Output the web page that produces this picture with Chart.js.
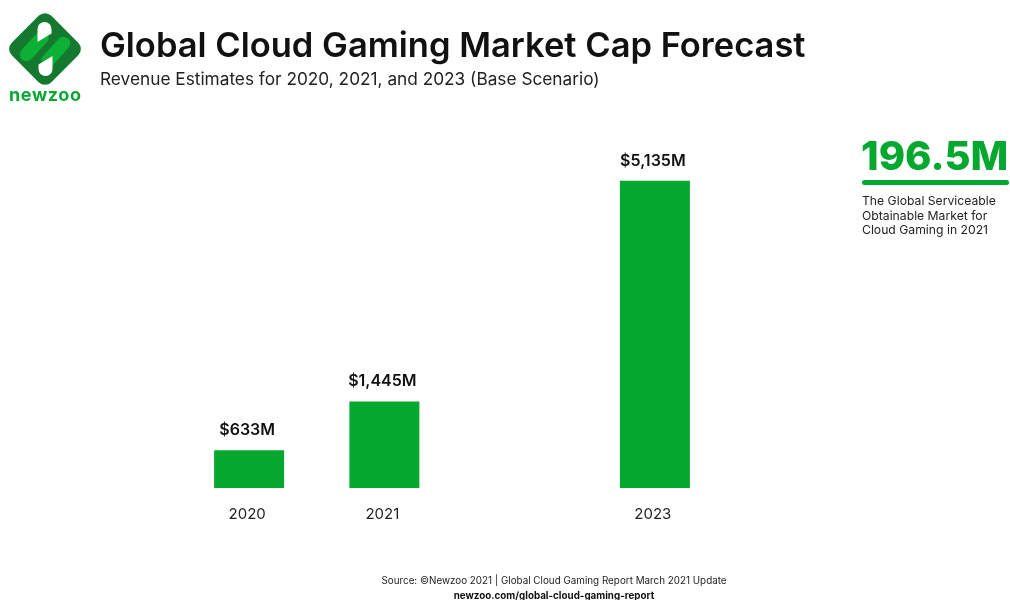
<!DOCTYPE html>
<html>
<head>
<meta charset="utf-8">
<title>Global Cloud Gaming Market Cap Forecast</title>
<script src="https://cdn.jsdelivr.net/npm/chart.js@4"></script>
<style>
  html, body { margin: 0; padding: 0; background: #fff; }
  #wrap { position: relative; width: 1010px; height: 600px; overflow: hidden; font-family: Inter, sans-serif; color: #111; }
  #wrap canvas { position: absolute; left: 0; top: 0; }
  .txt { position: absolute; white-space: nowrap; }
  #logo { position: absolute; left: 8px; top: 11px; }
</style>
</head>
<body>
<div id="wrap">
  <canvas id="chart" width="1010" height="600"></canvas>

  <svg id="logo" width="76" height="76" viewBox="0 0 76 76">
    <rect x="9" y="10" width="56" height="56" rx="9" transform="rotate(45 37 38)" fill="#14782f"/>
    <line x1="34" y1="26.5" x2="18.5" y2="43.5" stroke="#0bb035" stroke-width="13.5" stroke-linecap="round"/>
    <path d="M29.5 31 L29.5 18 A7 7 0 0 1 43.5 18 L43.5 22.5 Z" fill="#fff"/>
    <line x1="40" y1="49.5" x2="55.5" y2="32.5" stroke="#0bb035" stroke-width="13.5" stroke-linecap="round"/>
    <path d="M44.5 45 L44.5 58 A7 7 0 0 1 30.5 58 L30.5 53.5 Z" fill="#fff"/>
  </svg>
  <div class="txt" style="left:9px;top:84px;font-size:18px;font-weight:700;color:#0aa833;letter-spacing:.6px">newzoo</div>

  <div class="txt" style="left:100px;top:24px;font-size:34.5px;font-weight:600">Global Cloud Gaming Market Cap Forecast</div>
  <div class="txt" style="left:100px;top:68px;font-size:17.25px;font-weight:400;color:#222">Revenue Estimates for 2020, 2021, and 2023 (Base Scenario)</div>

  <div class="txt" style="left:861px;top:131px;font-size:40px;font-weight:800;color:#04a82f">196.5M</div>
  <div style="position:absolute;left:862px;top:180px;width:147px;height:5px;border-radius:3px;background:#04a82f"></div>
  <div class="txt" style="left:862px;top:194px;font-size:12.2px;line-height:14.5px;color:#222">The Global Serviceable<br>Obtainable Market for<br>Cloud Gaming in 2021</div>

  <div class="txt" style="left:0;width:1108px;text-align:center;top:574px;font-size:9.85px;color:#222">Source: ©Newzoo 2021 | Global Cloud Gaming Report March 2021 Update</div>
  <div class="txt" style="left:0;width:1108px;text-align:center;top:590px;font-size:9.8px;font-weight:700;color:#111">newzoo.com/global-cloud-gaming-report</div>
</div>

<script>
// 2022 stays in the axis as an empty slot so the years keep their real spacing
const years = ['2020', '2021', '2022', '2023'];
const revenue = [633, 1445, null, 5135];
const revenueLabels = ['$633M', '$1,445M', '', '$5,135M'];

const barLabels = {
    id: 'barLabels',
    afterDatasetsDraw(chart) {
        const ctx = chart.ctx;
        const bars = chart.getDatasetMeta(0).data;
        ctx.save();
        ctx.font = '600 16px Inter';
        ctx.fillStyle = '#111';
        ctx.textAlign = 'center';
        ctx.textBaseline = 'bottom';
        bars.forEach((bar, i) => {
            if (revenue[i] === null) return;
            ctx.fillText(revenueLabels[i], bar.x - 2, bar.y - 12);
        });
        ctx.restore();
    }
};

const ctx = document.getElementById('chart').getContext('2d');
new Chart(ctx, {
    type: 'bar',
    data: {
        labels: years,
        datasets: [{
            data: revenue,
            backgroundColor: '#04a82f',
            barPercentage: 0.5176,
            categoryPercentage: 1
        }]
    },
    options: {
        responsive: false,
        animation: false,
        layout: { padding: { left: 181.5, right: 287.5, top: 129, bottom: 0 } },
        plugins: { legend: { display: false }, tooltip: { enabled: false } },
        scales: {
            x: {
                grid: { display: false, drawTicks: false },
                border: { display: false },
                // fixed height keeps the baseline at the same spot
                afterFit(scale) { scale.height = 112; },
                ticks: {
                    padding: 17,
                    labelOffset: -2,
                    color: '#222',
                    font: { family: 'Inter', size: 15 },
                    callback(value, i) { return i === 2 ? '' : years[i]; }
                }
            },
            y: { display: false, min: 0, max: 6000 }
        }
    },
    plugins: [barLabels]
});
</script>
</body>
</html>
